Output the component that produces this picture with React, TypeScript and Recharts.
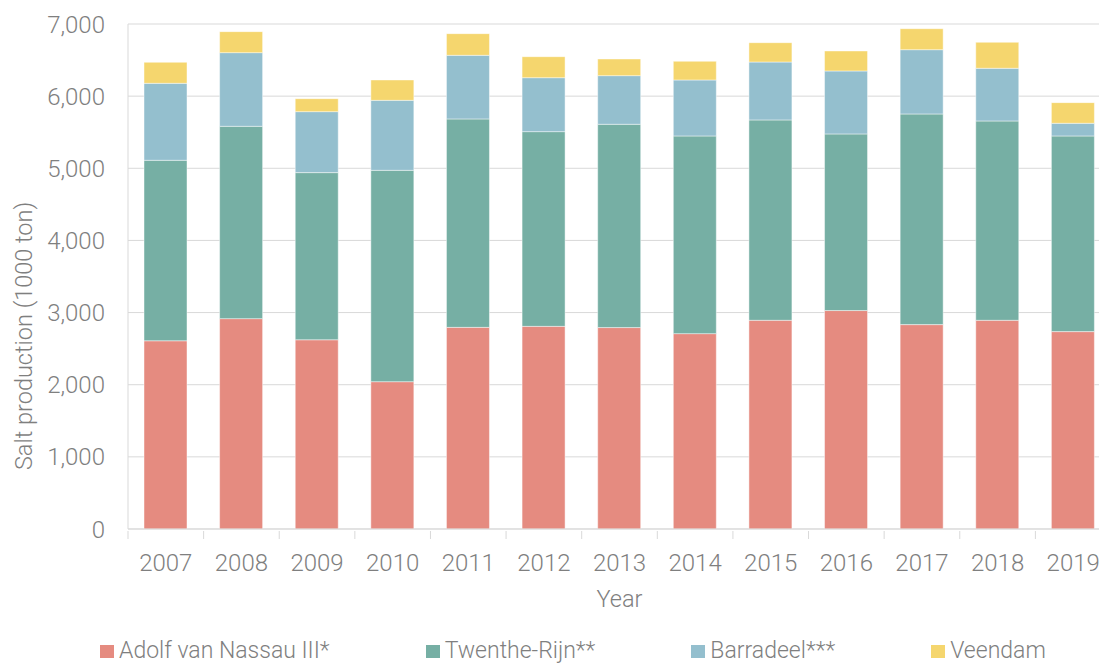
import { BarChart, Bar, XAxis, YAxis, CartesianGrid } from "recharts";

const years = ["2007", "2008", "2009", "2010", "2011", "2012", "2013", "2014", "2015", "2016", "2017", "2018", "2019"];
const adolfVanNassau = [2609, 2916, 2623, 2042, 2795, 2809, 2792, 2708, 2893, 3028, 2833, 2893, 2736];
const twentheRijn = [2502, 2666, 2317, 2930, 2889, 2699, 2818, 2740, 2777, 2448, 2920, 2763, 2712];
const barradeel = [1067, 1021, 845, 970, 882, 748, 674, 776, 803, 873, 891, 730, 176];
const veendam = [291, 291, 180, 282, 300, 291, 231, 259, 268, 277, 291, 360, 286];
const yTicks = [0, 1000, 2000, 3000, 4000, 5000, 6000, 7000];

const series = [
  { key: "adolf", name: "Adolf van Nassau III*", color: "#E58B80" },
  { key: "twenthe", name: "Twenthe-Rijn**", color: "#76AFA4" },
  { key: "barradeel", name: "Barradeel***", color: "#94BFCE" },
  { key: "veendam", name: "Veendam", color: "#F5D66E" },
];

const data = years.map((year, i) => ({
  year,
  adolf: adolfVanNassau[i],
  twenthe: twentheRijn[i],
  barradeel: barradeel[i],
  veendam: veendam[i],
}));

const FONT = "Roboto, 'Liberation Sans', Arial, sans-serif";
const WEIGHT = 300;
const TEXT = "#7F7F7F";
const GRID = "#D9D9D9";

// tick label + small tick mark on the left boundary of each category
function YearTick(props: any) {
  const { x, y, payload } = props;
  const half = payload && payload.offset ? payload.offset : 37.8;
  return (
    <g>
      <line x1={x - half} x2={x - half} y1={y} y2={y + 8} stroke={GRID} />
      <text x={x} y={y + 40} textAnchor="middle" fill={TEXT} fontSize={24} fontWeight={WEIGHT} fontFamily={FONT}>
        {payload.value}
      </text>
    </g>
  );
}

function YLabel() {
  return (
    <text
      x={24}
      y={336}
      transform="rotate(-90, 24, 336)"
      textAnchor="middle"
      dominantBaseline="central"
      fill={TEXT}
      fontSize={23.5}
      fontWeight={WEIGHT}
      fontFamily={FONT}
    >
      Salt production (1000 ton)
    </text>
  );
}

export default function App() {
  return (
    <div
      style={{
        position: "absolute",
        left: 0,
        top: 0,
        width: 1099,
        height: 663,
        overflow: "hidden",
        background: "#fff",
        fontFamily: FONT,
        fontWeight: WEIGHT,
      }}
    >
      <BarChart
        width={1120}
        height={663}
        data={data}
        margin={{ top: 24, right: 9, left: 0, bottom: 0 }}
        barSize={43}
      >
        <CartesianGrid vertical={false} stroke={GRID} />
        <XAxis
          dataKey="year"
          height={134}
          tickSize={0}
          tickLine={false}
          axisLine={{ stroke: GRID }}
          tick={<YearTick />}
          interval={0}
          label={{
            value: "Year",
            position: "insideTop",
            offset: 61,
            fill: TEXT,
            fontSize: 23.5,
            fontWeight: WEIGHT,
            fontFamily: FONT,
          }}
        />
        <YAxis
          width={128}
          domain={[0, 7000]}
          ticks={yTicks}
          tickSize={0}
          tickMargin={23}
          tickLine={false}
          axisLine={{ stroke: GRID }}
          tick={{ fill: TEXT, fontSize: 24, fontWeight: WEIGHT, fontFamily: FONT }}
          tickFormatter={(v) => Number(v).toLocaleString("en-US")}
          label={<YLabel />}
        />
        {series.map((s) => (
          <Bar
            key={s.key}
            dataKey={s.key}
            name={s.name}
            stackId="salt"
            fill={s.color}
            stroke="rgba(255,255,255,0.45)"
            strokeWidth={1}
            isAnimationActive={false}
          />
        ))}
      </BarChart>
      <div
        style={{
          position: "absolute",
          left: 100,
          top: 641,
          display: "flex",
          alignItems: "center",
          gap: 96,
          fontSize: 23,
          lineHeight: "20px",
          color: TEXT,
          whiteSpace: "nowrap",
        }}
      >
        {series.map((s) => (
          <div key={s.key} style={{ display: "flex", alignItems: "center" }}>
            <span style={{ display: "inline-block", width: 14, height: 13, background: s.color, marginRight: 5 }} />
            <span>{s.name}</span>
          </div>
        ))}
      </div>
    </div>
  );
}
